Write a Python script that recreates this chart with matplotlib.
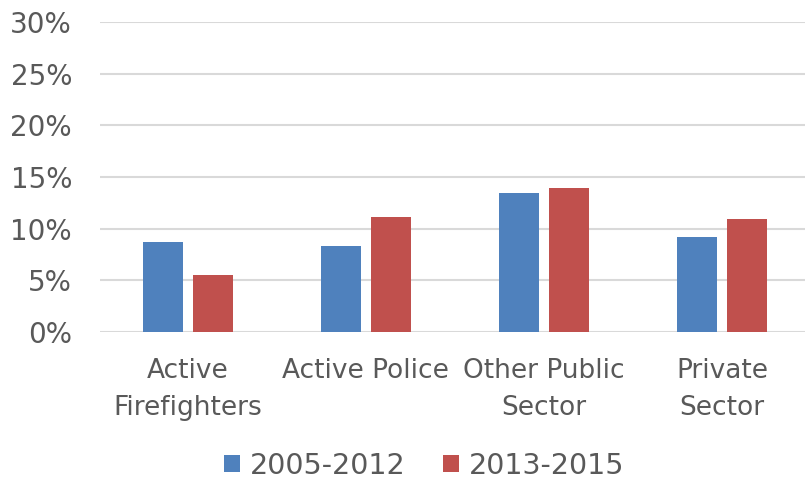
import matplotlib.pyplot as plt
import numpy as np

# data
categories = ["Active\nFirefighters", "Active Police", "Other Public\nSector", "Private\nSector"]
series_names = ["2005-2012", "2013-2015"]
vals_2005_2012 = [8.7, 8.3, 13.5, 9.2]
vals_2013_2015 = [5.5, 11.1, 13.9, 10.9]
yticks = [0, 5, 10, 15, 20, 25, 30]

blue = "#4F81BD"
red = "#C0504D"
grey = "#595959"

plt.rcParams['font.family'] = ['DejaVu Sans']

fig = plt.figure(figsize=(8.05, 4.8), dpi=100)
ax = fig.add_axes([0.124, 0.3083, 0.876, 0.6459])

x = np.arange(len(categories))
w = 0.225
off = 0.14
ax.bar(x - off, vals_2005_2012, w, color=blue, label=series_names[0], zorder=3)
ax.bar(x + off, vals_2013_2015, w, color=red, label=series_names[1], zorder=3)

ax.set_ylim(0, 30)
ax.set_xlim(-0.494, 3.466)
ax.set_yticks(yticks)
ax.set_yticklabels([f"{t}%" for t in yticks])
ax.yaxis.grid(True, color="#d9d9d9", linewidth=1.5, zorder=0)
ax.set_axisbelow(True)
for s in ax.spines.values():
    s.set_visible(False)
ax.tick_params(axis="y", length=0, labelsize=20, labelcolor=grey, pad=20)
ax.tick_params(axis="x", length=0, labelsize=19, labelcolor=grey, pad=19)
ax.set_xticks(x)
ax.set_xticklabels(categories, linespacing=1.55, va="top")

leg = fig.legend(loc="center", bbox_to_anchor=(0.527, 0.03), ncol=2, frameon=False,
                 fontsize=20.5, handlelength=0.55, handleheight=0.55, handletextpad=0.35,
                 columnspacing=1.3, labelcolor=grey)

fig.savefig("out.png", dpi=100)
